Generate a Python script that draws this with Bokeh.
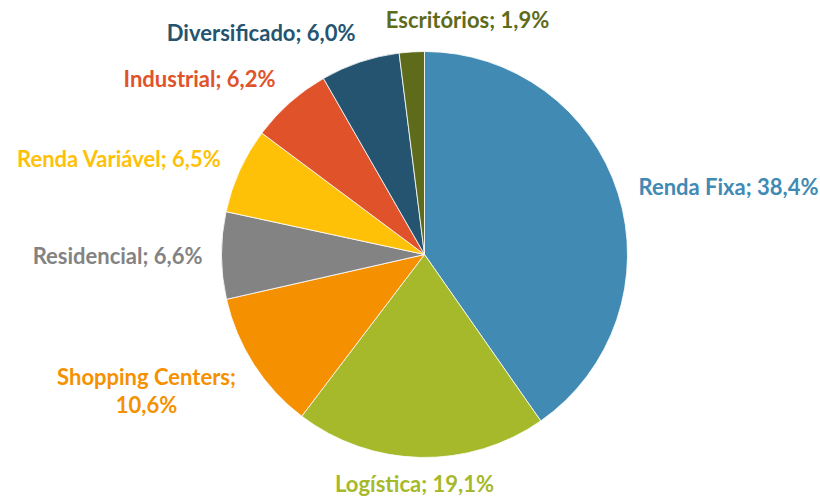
import math
from bokeh.plotting import figure
from bokeh.models import ColumnDataSource, Range1d
from bokeh.core.properties import value
from bokeh.embed import file_html
from bokeh.resources import INLINE

# ---- data ----
categories = ["Renda Fixa", "Logística", "Shopping Centers", "Residencial",
              "Renda Variável", "Industrial", "Diversificado", "Escritórios"]
shares = [38.4, 19.1, 10.6, 6.6, 6.5, 6.2, 6.0, 1.9]
labels = ["Renda Fixa; 38,4%", "Logística; 19,1%", "Shopping Centers;\n10,6%",
          "Residencial; 6,6%", "Renda Variável; 6,5%", "Industrial; 6,2%",
          "Diversificado; 6,0%", "Escritórios; 1,9%"]
colors = ["#418AB3", "#A5B92B", "#F59100", "#838383",
          "#FEC108", "#E0532A", "#255470", "#5E6B1B"]

# ---- layout ----
W, H = 820, 498
CX, CY, R = 424, 498 - 254, 203
# label anchor (image pixel coords, from top-left) and alignment
label_pos = [(638, 186, "left"), (414, 483, "center"), (146, 390, "center"),
             (202, 255, "right"), (221, 158, "right"), (275, 78, "right"),
             (355, 32, "right"), (467, 19, "center")]

total = sum(shares)
starts, ends = [], []
cum = 0.0
for s in shares:
    starts.append(math.pi / 2 - 2 * math.pi * cum / total)
    cum += s
    ends.append(math.pi / 2 - 2 * math.pi * cum / total)

src = ColumnDataSource(dict(cat=categories, share=shares, start=starts, end=ends, color=colors))

p = figure(width=W, height=H, output_backend="svg", toolbar_location=None,
           x_range=Range1d(0, W), y_range=Range1d(0, H), min_border=0)
p.axis.visible = False
p.grid.visible = False
p.outline_line_color = None

p.wedge(x=CX, y=CY, radius=R, start_angle="start", end_angle="end",
        direction="clock", fill_color="color", line_color="white",
        line_width=0.8, source=src)

lx = [lp[0] for lp in label_pos]
ly = [H - lp[1] for lp in label_pos]
align = [lp[2] for lp in label_pos]
lsrc = ColumnDataSource(dict(x=lx, y=ly, t=labels, c=colors, a=align))
p.text(x="x", y="y", text="t", text_color="c", text_align="a",
       text_baseline="middle", text_font=value("Lato"), text_font_style="bold",
       text_font_size="22px", text_line_height=1.05, source=lsrc)

open("out.html", "w").write(file_html(p, INLINE))
